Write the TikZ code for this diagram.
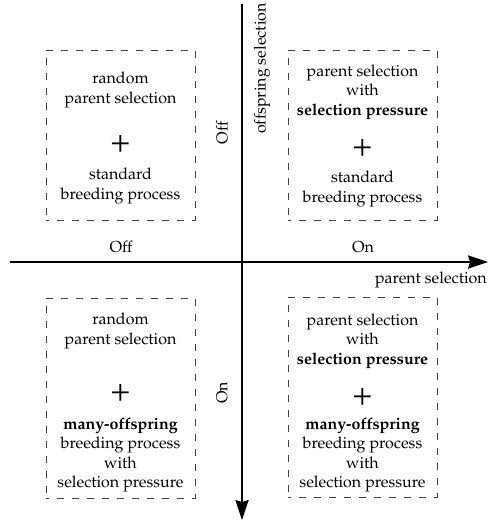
\documentclass[tikz,border=0pt,12pt]{standalone}
\usepackage[T1]{fontenc}
\usepackage{mathpazo}
\usetikzlibrary{arrows.meta}
\begin{document}
\begin{tikzpicture}[x=0.75pt,y=-0.75pt,
    quad/.style={draw=black!75, dash pattern=on 5.25pt off 6pt, dash phase=3pt, line width=0.75pt,
      minimum width=111.75pt, inner sep=0pt},
    txt/.style={align=center, inner sep=0pt},
    plus/.style={inner sep=0pt, font=\Huge},
    axis/.style={line width=1pt, -{Stealth[length=15pt,width=10pt,inset=1.5pt]}}]
    \useasboundingbox (0,0) rectangle (490,521);
    % Axes
    \coordinate (pleft) at (10,262);
    \coordinate (pright) at (488,262);
    \coordinate (otop) at (242,4);
    \coordinate (obottom) at (242,520);
    \draw[axis] (pleft) -- (pright);
    \draw[axis] (otop) -- (obottom);
    \node (offx) at (121,247) {Off};
    \node (onx) at (363,247) {On};
    \node[anchor=east, inner sep=0pt] (plabel) at (487,280) {parent selection};
    \node[rotate=90] (offy) at (222,133) {Off};
    \node[rotate=90] (ony) at (222,393) {On};
    \node[rotate=90, anchor=east, inner sep=0pt] (olabel) at (262,3) {offspring selection};
    % Off / Off
    \node[quad, minimum height=127.5pt] (offoff) at (120.5,135) {};
    \node[txt] (offoff-a) at (120.5,90) {random\\parent selection};
    \node[plus] (offoff-b) at (120.5,144) {+};
    \node[txt] (offoff-c) at (120.5,186) {standard\\breeding process};
    % On / Off
    \node[quad, minimum height=127.5pt] (onoff) at (362.5,135) {};
    \node[txt] (onoff-a) at (362.5,92) {parent selection\\with\\\textbf{selection pressure}};
    \node[plus] (onoff-b) at (362.5,148) {+};
    \node[txt] (onoff-c) at (362.5,189) {standard\\breeding process};
    % Off / On
    \node[quad, minimum height=150pt] (offon) at (120.5,398) {};
    \node[txt] (offon-a) at (120.5,331) {random\\parent selection};
    \node[plus] (offon-b) at (120.5,393) {+};
    \node[txt] (offon-c) at (120.5,455) {\textbf{many-offspring}\\breeding process\\with\\selection pressure};
    % On / On
    \node[quad, minimum height=150pt] (onon) at (362.5,397) {};
    \node[txt] (onon-a) at (362.5,341) {parent selection\\with\\\textbf{selection pressure}};
    \node[plus] (onon-b) at (362.5,397) {+};
    \node[txt] (onon-c) at (362.5,455) {\textbf{many-offspring}\\breeding process\\with\\selection pressure};
\end{tikzpicture}
\end{document}
